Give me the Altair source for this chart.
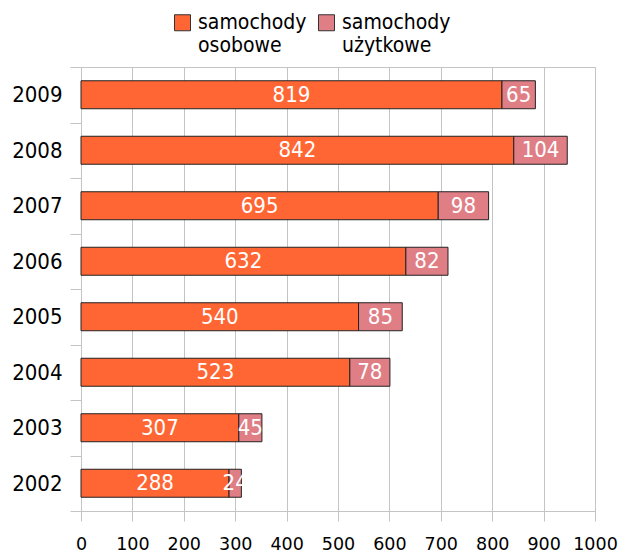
import altair as alt
import pandas as pd

# Liczba samochodów w latach 2002-2009
years = ["2002", "2003", "2004", "2005", "2006", "2007", "2008", "2009"]
osobowe = [288, 307, 523, 540, 632, 695, 842, 819]
uzytkowe = [24, 45, 78, 85, 82, 98, 104, 65]
series = ["samochody osobowe", "samochody użytkowe"]
colors = ["#FF6633", "#E07E86"]
x_ticks = list(range(0, 1001, 100))

rows = []
for rok, a, b in zip(years, osobowe, uzytkowe):
    rows.append({"rok": rok, "rodzaj": series[0], "liczba": a, "kolejnosc": 0})
    rows.append({"rok": rok, "rodzaj": series[1], "liczba": b, "kolejnosc": 1})
df = pd.DataFrame(rows)

FONT = "DejaVu Sans Condensed"
GRID = "#c4c4c4"

base = alt.Chart(df).transform_stack(
    stack="liczba",
    groupby=["rok"],
    as_=["x0", "x1"],
    sort=[alt.SortField("kolejnosc", order="ascending")],
).transform_calculate(srodek="(datum.x0 + datum.x1) / 2")

y_enc = alt.Y(
    "rok:N",
    sort=years[::-1],
    title=None,
    scale=alt.Scale(paddingInner=0, paddingOuter=0),
    axis=alt.Axis(
        tickBand="extent",
        grid=False,
        domainColor=GRID,
        tickColor=GRID,
        tickSize=11,
        labelPadding=8,
        labelFont=FONT,
        labelFontSize=22,
        labelColor="#000000",
    ),
)

x_scale = alt.Scale(domain=[0, 1000], nice=False)
x_axis = alt.Axis(
    values=x_ticks,
    format="d",
    grid=True,
    gridColor=GRID,
    domainColor=GRID,
    tickColor=GRID,
    tickSize=10,
    labelPadding=14,
    labelFont="DejaVu Sans",
    labelFontSize=17.5,
    labelColor="#000000",
    labelFlush=False,
)

bars = base.mark_bar(
    height={"band": 0.504}, stroke="#222222", strokeWidth=1
).encode(
    x=alt.X("x0:Q", scale=x_scale, axis=x_axis, title=None),
    x2="x1:Q",
    y=y_enc,
    color=alt.Color(
        "rodzaj:N",
        scale=alt.Scale(domain=series, range=colors),
        legend=alt.Legend(
            title=None,
            orient="none",
            legendX=91,
            legendY=-55,
            direction="horizontal",
            symbolType="square",
            symbolSize=256,
            symbolStrokeColor="#333333",
            symbolStrokeWidth=1,
            symbolOpacity=1,
            labelFont=FONT,
            labelFontSize=21,
            labelColor="#000000",
            labelLimit=0,
            labelOffset=5,
            columnPadding=9,
            labelExpr="split(datum.label, ' ')",
        ),
    ),
)

labels = base.mark_text(
    color="white", font=FONT, fontSize=22, baseline="middle", align="center"
).encode(
    x=alt.X("srodek:Q", scale=x_scale),
    y=alt.Y("rok:N", sort=years[::-1]),
    text="liczba:Q",
)

chart = (
    alt.layer(bars, labels)
    .properties(
        width=514,
        height=444,
        autosize=alt.AutoSizeParams(type="none"),
        padding={"left": 81, "top": 67, "right": 34, "bottom": 45},
    )
    .configure_view(stroke=GRID, strokeWidth=1)
)

chart.save("out.html", embed_options={"renderer": "svg", "actions": False})
